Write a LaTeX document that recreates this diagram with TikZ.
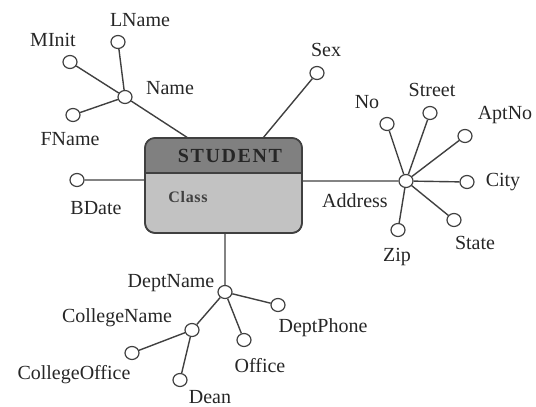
\documentclass[tikz,border=0pt]{standalone}
\usepackage{fontspec}
\setmainfont{Liberation Serif}
\usetikzlibrary{calc}
\usetikzlibrary{shapes.geometric}
\usetikzlibrary{positioning}
\definecolor{hdrgray}{RGB}{128,128,128}
\definecolor{bodygray}{RGB}{194,194,194}
\definecolor{edgegray}{RGB}{64,64,64}
\tikzset{
    attr/.style={
           ellipse,
           draw=edgegray, line width=0.6pt,
           fill=white,
           minimum width=7pt,
           minimum height=6.5pt,
           inner sep=0pt,
           },
    lbl/.style={
           inner sep=1pt,
           text=black!85,
           font=\fontsize{10}{12}\selectfont,
           },
    link/.style={draw=edgegray, line width=0.7pt},
}
\begin{document}
\begin{tikzpicture}[x=0.5pt,y=-0.5pt]
    \useasboundingbox (0,0) rectangle (536,407);
    % entity box
    \node[draw=edgegray, fill=bodygray, rounded corners=5pt, line width=0.8pt,
          outer sep=0pt, minimum width=78.5pt, minimum height=47.5pt] (student) at (223.5,185.5) {};
    \begin{scope}
        \clip[rounded corners=5pt] (student.north west) rectangle (student.south east);
        \fill[hdrgray] (student.north west) rectangle ($(student.east)+(0,-12.5)$);
    \end{scope}
    \draw[edgegray, line width=1pt] ($(student.west)+(0,-12.5)$) -- ($(student.east)+(0,-12.5)$);
    \draw[edgegray, rounded corners=5pt, line width=0.8pt] (student.north west) rectangle (student.south east);
    \node[lbl, font=\fontsize{10}{12}\selectfont\bfseries\addfontfeature{LetterSpace=8}] (s_title) at (230,156) {STUDENT};
    \node[lbl, text=black!75, font=\fontsize{8}{10}\selectfont\bfseries\addfontfeature{LetterSpace=4}] (s_class) at (188,197) {Class};

    % attributes
    \node[attr] (name)          at (125,97)  {};
    \node[attr] (minit)         at (70,62)   {};
    \node[attr] (lname)         at (118,42)  {};
    \node[attr] (fname)         at (73,115)  {};
    \node[attr] (bdate)         at (77,180)  {};
    \node[attr] (sex)           at (317,73)  {};
    \node[attr] (address)       at (406,181) {};
    \node[attr] (no)            at (387,124) {};
    \node[attr] (street)        at (430,113) {};
    \node[attr] (aptno)         at (465,136) {};
    \node[attr] (city)          at (467,182) {};
    \node[attr] (state)         at (454,220) {};
    \node[attr] (zip)           at (398,230) {};
    \node[attr] (deptname)      at (225,292) {};
    \node[attr] (deptphone)     at (278,305) {};
    \node[attr] (office)        at (244,340) {};
    \node[attr] (collegename)   at (192,330) {};
    \node[attr] (collegeoffice) at (132,353) {};
    \node[attr] (dean)          at (180,380) {};

    % labels
    \node[lbl] (t_name)          at (170,88)  {Name};
    \node[lbl] (t_minit)         at (53,40)   {MInit};
    \node[lbl] (t_lname)         at (140,20)  {LName};
    \node[lbl] (t_fname)         at (70,139)  {FName};
    \node[lbl] (t_bdate)         at (96,208)  {BDate};
    \node[lbl] (t_sex)           at (326,50)  {Sex};
    \node[lbl] (t_address)       at (355,201) {Address};
    \node[lbl] (t_no)            at (367,102) {No};
    \node[lbl] (t_street)        at (432,90)  {Street};
    \node[lbl] (t_aptno)         at (505,115) {AptNo};
    \node[lbl] (t_city)          at (503,182) {City};
    \node[lbl] (t_state)         at (475,243) {State};
    \node[lbl] (t_zip)           at (397,257) {Zip};
    \node[lbl] (t_deptname)      at (171,283) {DeptName};
    \node[lbl] (t_deptphone)     at (323,328) {DeptPhone};
    \node[lbl] (t_office)        at (260,366) {Office};
    \node[lbl] (t_collegename)   at (117,318) {CollegeName};
    \node[lbl] (t_collegeoffice) at (74,375)  {CollegeOffice};
    \node[lbl] (t_dean)          at (210,397) {Dean};

    % connectors
    \path[link]
    (name) -- ($(student.north west)+(43,0)$)
    (name) -- (minit)
    (name) -- (lname)
    (name) -- (fname)
    (bdate) -- (bdate -| student.west)
    (sex) -- ($(student.north east)+(-39,0)$)
    (student.east |- address) -- (address)
    (address) -- (no)
    (address) -- (street)
    (address) -- (aptno)
    (address) -- (city)
    (address) -- (state)
    (address) -- (zip)
    (student.south -| deptname) -- (deptname)
    (deptname) -- (deptphone)
    (deptname) -- (office)
    (deptname) -- (collegename)
    (collegename) -- (collegeoffice)
    (collegename) -- (dean);
\end{tikzpicture}
\end{document}
